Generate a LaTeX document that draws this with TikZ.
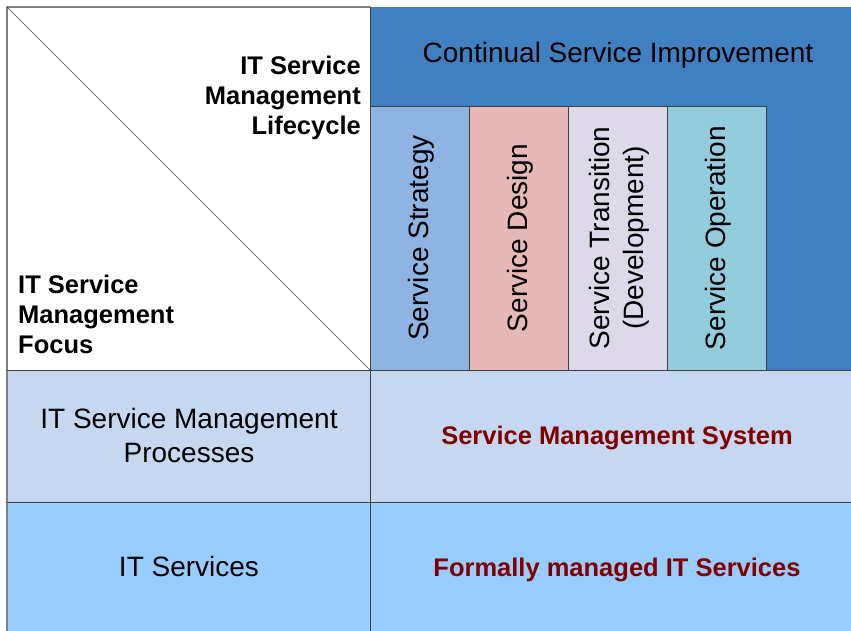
\documentclass[tikz,border=0pt]{standalone}
\usepackage{fontspec}
\setmainfont{Liberation Sans}
\definecolor{csiblue}{RGB}{64,128,192}
\definecolor{stratfill}{RGB}{142,180,227}
\definecolor{designfill}{RGB}{230,185,184}
\definecolor{transfill}{RGB}{221,217,232}
\definecolor{operfill}{RGB}{147,205,221}
\definecolor{procfill}{RGB}{198,216,239}
\definecolor{svcfill}{RGB}{153,204,255}
\definecolor{smsred}{RGB}{128,0,0}
\definecolor{gridgray}{RGB}{64,64,64}
\begin{document}
\begin{tikzpicture}[x=1pt,y=-1pt,line join=round,line cap=round,
  every node/.style={inner sep=0pt,font=\fontsize{28}{34}\selectfont},
  head/.style={font=\fontsize{25.5}{30}\selectfont\bfseries},
  sms/.style={head,text=smsred},
  phase/.style={rotate=90,align=center},
  grid line/.style={gridgray,line width=0.8pt}]
			\useasboundingbox (0,0) rectangle (851,630);
			\clip (0,0) rectangle (851,630);
			\path
			(7,7) coordinate (A)
			(370,7) coordinate (B)
			(370,370) coordinate (C)
			(7,370) coordinate (D)
			(7,502) coordinate (E)
			(370,106) coordinate (P);
			% rows and the lifecycle block
			\fill[procfill] (D) rectangle (860,502);
			\fill[svcfill] (E) rectangle (860,640);
			\fill[csiblue] (B) rectangle (860,370);
			\filldraw[stratfill,draw=gridgray] (P) rectangle (469,370);
			\filldraw[designfill,draw=gridgray] (469,106) rectangle (568,370);
			\filldraw[transfill,draw=gridgray] (568,106) rectangle (667,370);
			\filldraw[operfill,draw=gridgray] (667,106) rectangle (766,370);
			\draw[gray,line width=1.2pt] (7,640) -- (A) -- (B);
			\draw[gridgray,line width=0.5pt] (A) -- (C);
			\draw[grid line] (B) -- (370,640);
			\draw[grid line] (D) -- (860,370);
			\draw[grid line] (E) -- (860,502);
			\node (csi) at (618,55.5) {Continual Service Improvement};
			\node[phase] (strat) at (421.5,238) {Service Strategy};
			\node[phase] (design) at (520.5,238) {Service Design};
			\node[phase] (trans) at (619.5,238) {Service Transition\\(Development)};
			\node[phase] (oper) at (718.5,238) {Service Operation};
			\node[head,align=right,anchor=east] (life) at (361,98) {IT Service\\Management\\Lifecycle};
			\node[head,align=left,anchor=west] (focus) at (18,314) {IT Service\\Management\\Focus};
			\node[align=center] (proc) at (189,435) {IT Service Management\\Processes};
			\node (svc) at (189,566) {IT Services};
			\node[sms] (sys) at (617,437.5) {Service Management System};
			\node[sms] (formal) at (617,569.5) {Formally managed IT Services};
		\end{tikzpicture}
\end{document}
